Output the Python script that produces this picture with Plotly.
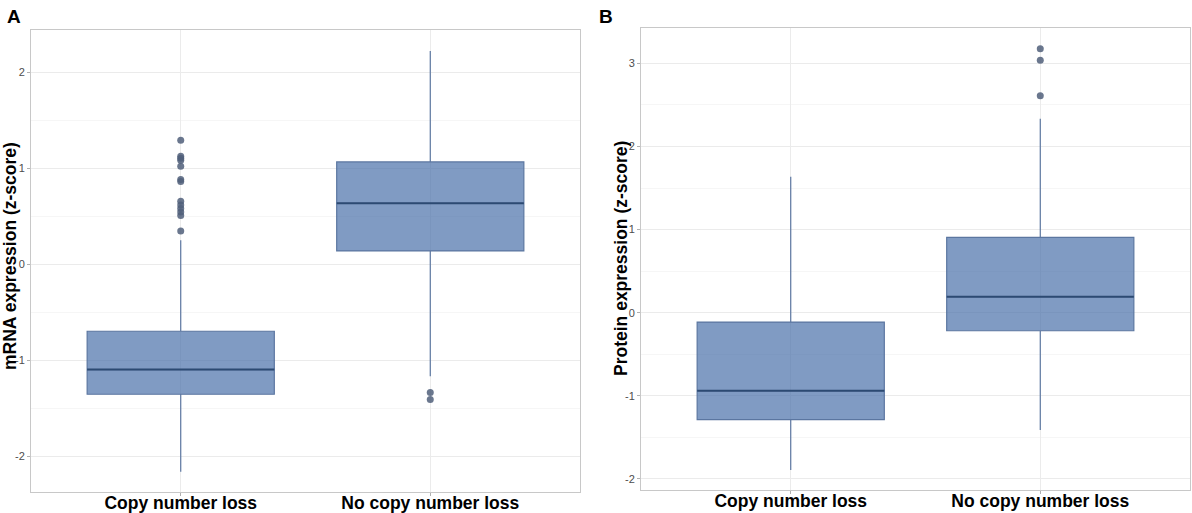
import plotly.graph_objects as go

# ---------------- data ----------------
categories = ["Copy number loss", "No copy number loss"]
cat_pos = [1, 2]

# Panel A: mRNA expression (z-score)
mrna_q1 = [-1.354, 0.139]
mrna_median = [-1.097, 0.635]
mrna_q3 = [-0.698, 1.066]
mrna_lower = [-2.16, -1.167]
mrna_upper = [0.25, 2.22]
mrna_out_loss = [1.292, 1.125, 1.104, 1.083, 1.021, 0.882, 0.861, 0.656, 0.618, 0.580, 0.545, 0.507, 0.347]
mrna_out_noloss = [-1.336, -1.41]

# Panel B: Protein expression (z-score)
prot_q1 = [-1.287, -0.217]
prot_median = [-0.939, 0.193]
prot_q3 = [-0.112, 0.907]
prot_lower = [-1.893, -1.412]
prot_upper = [1.637, 2.335]
prot_out_loss = []
prot_out_noloss = [3.177, 3.037, 2.611]

y_ticks_a = [-2, -1, 0, 1, 2]
y_ticks_b = [-2, -1, 0, 1, 2, 3]

# ---------------- style ----------------
FONT = "Liberation Sans, Arial, sans-serif"
FILL = "rgba(74,112,170,0.70)"
EDGE = "#5b76a0"
MEDIAN = "#2c4a72"
POINT = "rgba(80,95,122,0.85)"
GRID = "#ebebeb"
MINOR = "#f6f6f6"
BORDER = "#c8c8c8"

fig = go.Figure()


def add_panel(fig, xa, ya, q1, med, q3, lo, up, out_loss, out_noloss):
    fig.add_trace(go.Box(
        x=cat_pos, q1=q1, median=med, q3=q3, lowerfence=lo, upperfence=up,
        width=0.75, whiskerwidth=0, fillcolor=FILL,
        line=dict(color=EDGE, width=1.2), boxpoints=False,
        xaxis=xa, yaxis=ya, showlegend=False, hoverinfo="skip",
    ))
    # thicker median lines
    for p, m in zip(cat_pos, med):
        fig.add_trace(go.Scatter(
            x=[p - 0.375, p + 0.375], y=[m, m], mode="lines",
            line=dict(color=MEDIAN, width=2), xaxis=xa, yaxis=ya,
            showlegend=False, hoverinfo="skip",
        ))
    ox = [cat_pos[0]] * len(out_loss) + [cat_pos[1]] * len(out_noloss)
    oy = list(out_loss) + list(out_noloss)
    fig.add_trace(go.Scatter(
        x=ox, y=oy, mode="markers",
        marker=dict(color=POINT, size=7, line=dict(width=0)),
        xaxis=xa, yaxis=ya, showlegend=False, hoverinfo="skip",
    ))


add_panel(fig, "x", "y", mrna_q1, mrna_median, mrna_q3, mrna_lower, mrna_upper,
          mrna_out_loss, mrna_out_noloss)
add_panel(fig, "x2", "y2", prot_q1, prot_median, prot_q3, prot_lower, prot_upper,
          prot_out_loss, prot_out_noloss)

W, H = 1192, 513

xcommon = dict(
    range=[0.4, 2.6], tickmode="array", tickvals=cat_pos, ticktext=categories,
    tickfont=dict(family=FONT, size=17.5, color="#000000", weight="bold"),
    showgrid=True, gridcolor=GRID, gridwidth=1, zeroline=False,
    showline=True, linecolor=BORDER, linewidth=1, mirror=True,
    ticks="outside", ticklen=3, tickcolor="#b0b0b0", automargin=False,
    ticklabelstandoff=-8,
)
ycommon = dict(
    tickfont=dict(family=FONT, size=11, color="#4d4d4d"),
    showgrid=True, gridcolor=GRID, gridwidth=1, zeroline=False,
    showline=True, linecolor=BORDER, linewidth=1, mirror=True,
    ticks="outside", ticklen=3, tickcolor="#b0b0b0", automargin=False,
    minor=dict(dtick=0.5, showgrid=True, gridcolor=MINOR, ticks=""),
)

fig.update_layout(
    template="none",
    width=W, height=H,
    margin=dict(l=0, r=0, t=0, b=0, pad=0),
    paper_bgcolor="white", plot_bgcolor="white",
    font=dict(family=FONT),
    showlegend=False,
    xaxis=dict(domain=[31 / W, 580 / W], anchor="y", **xcommon),
    yaxis=dict(domain=[1 - 491.5 / H, 1 - 30 / H], anchor="x",
               range=[-2.367, 2.44], tickmode="array", tickvals=y_ticks_a,
               ticktext=[str(v) for v in y_ticks_a], **ycommon),
    xaxis2=dict(domain=[641 / W, 1190 / W], anchor="y2", **xcommon),
    yaxis2=dict(domain=[1 - 490.3 / H, 1 - 27.7 / H], anchor="x2",
                range=[-2.137, 3.43], tickmode="array", tickvals=y_ticks_b,
                ticktext=[str(v) for v in y_ticks_b], **ycommon),
    annotations=[
        dict(text="<b>A</b>", x=5 / W, y=1 - 16 / H, xref="paper", yref="paper",
             xanchor="left", yanchor="middle", showarrow=False,
             font=dict(family=FONT, size=19, color="#000")),
        dict(text="<b>B</b>", x=597 / W, y=1 - 16 / H, xref="paper", yref="paper",
             xanchor="left", yanchor="middle", showarrow=False,
             font=dict(family=FONT, size=19, color="#000")),
        dict(text="<b>mRNA expression (z-score)</b>", x=10 / W, y=1 - 256 / H,
             xref="paper", yref="paper", xanchor="center", yanchor="middle",
             textangle=-90, showarrow=False,
             font=dict(family=FONT, size=17.5, color="#000")),
        dict(text="<b>Protein expression (z-score)</b>", x=621 / W, y=1 - 259 / H,
             xref="paper", yref="paper", xanchor="center", yanchor="middle",
             textangle=-90, showarrow=False,
             font=dict(family=FONT, size=17.5, color="#000")),
    ],
)

fig.write_html("out.html", config={"displayModeBar": False},
               post_script="document.body.style.margin='0';document.body.style.overflow='hidden';")
